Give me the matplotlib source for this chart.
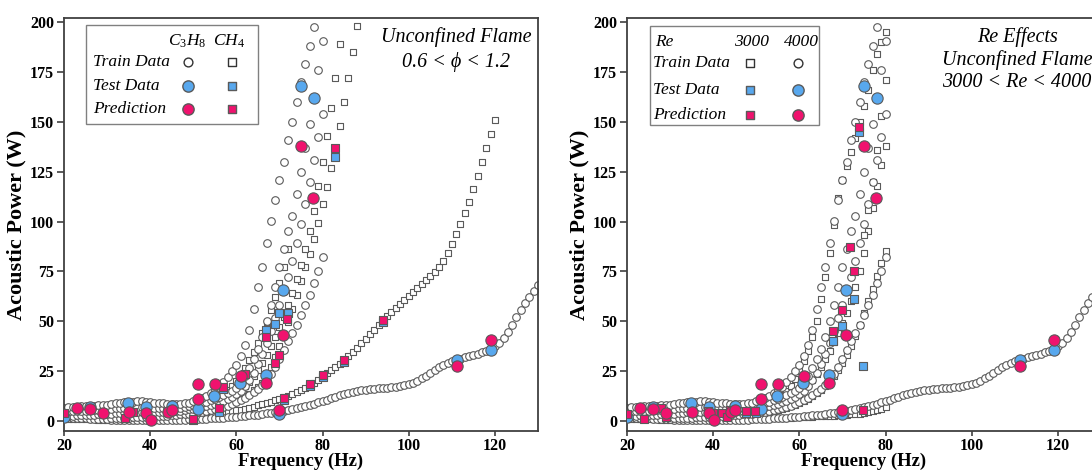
import matplotlib
matplotlib.use('Agg')
import matplotlib.pyplot as plt
from matplotlib.patches import Rectangle

plt.rcParams['font.family'] = ['Liberation Serif', 'DejaVu Serif']
plt.rcParams['mathtext.fontset'] = 'custom'
plt.rcParams['mathtext.rm'] = 'Liberation Serif'
plt.rcParams['mathtext.it'] = 'Liberation Serif:italic'

# ---------------- train data, C3H8 / Re 4000 (circles, shared by both panels)
a_f = [20, 21, 22, 23, 24, 25, 26, 27, 28, 29, 30, 31, 32, 33, 34, 35, 36, 37, 38, 39,
       40, 41, 42, 43, 44, 45, 46, 47, 48, 49, 50, 51, 52, 53, 54, 55, 56, 57, 58, 59,
       60, 61, 62, 63, 64, 65, 66, 67, 68, 69, 70, 71, 72, 73, 74, 75, 76, 77, 78, 79,
       80, 81, 82, 83, 84, 85, 86, 87, 88, 89, 90, 91, 92, 93, 94, 95, 96, 97, 98, 99,
       100, 101, 102, 103, 104, 105, 106, 107, 108, 109, 110, 111, 112, 113, 114, 115,
       116, 117, 118, 119, 120, 121, 122, 123, 124, 125, 126, 127, 128, 129, 130]
a_p = [1.8, 1.7, 1.6, 1.5, 1.4, 1.3, 1.2, 1.1, 1.0, 0.9, 0.8, 0.7, 0.6, 0.5, 0.5, 0.4, 0.4, 0.3, 0.3, 0.3,
       0.3, 0.3, 0.3, 0.3, 0.3, 0.4, 0.5, 0.6, 0.7, 0.8, 0.9, 1.0, 1.1, 1.2, 1.3, 1.4, 1.5, 1.6, 1.8, 2.0,
       2.2, 2.4, 2.6, 2.8, 3.0, 3.2, 3.5, 3.8, 4.1, 4.4, 4.8, 5.2, 5.6, 6.0, 6.5, 7.0, 7.5, 8.1, 8.7, 9.3,
       10.0, 10.7, 11.4, 12.1, 12.8, 13.4, 14.0, 14.5, 15.0, 15.4, 15.8, 16.1, 16.3, 16.5, 16.7, 16.8, 17.0, 17.2, 17.5, 17.9,
       18.5, 19.3, 20.3, 21.5, 22.8, 24.2, 25.6, 27.0, 28.2, 29.2, 30.0, 30.7, 31.3, 31.9, 32.5, 33.1,
       33.8, 34.5, 35.3, 36.3, 37.5, 39.2, 41.5, 44.5, 48.0, 52.0, 55.5, 59.0, 62.0, 65.0, 68.0]

c1_f = [20, 21, 22, 23, 24, 25, 26, 27, 28, 29, 30, 31, 32, 33, 34, 35, 36, 37, 38, 39,
        40, 41, 42, 43, 44, 45, 46, 47, 48, 49, 50, 51, 52, 53, 54, 55, 56, 57, 58, 59,
        60, 61, 62, 63, 64, 65, 66, 67, 68, 69, 70, 71, 72, 73, 74, 75, 76, 77, 78]
c1_p = [6.5, 6.8, 7.0, 7.2, 7.3, 7.4, 7.5, 7.6, 7.8, 8.0, 8.2, 8.5, 8.8, 9.1, 9.3, 9.5, 9.7, 9.8, 9.8, 9.7,
        9.5, 9.2, 9.0, 8.8, 8.6, 8.5, 8.5, 8.6, 8.8, 9.2, 9.8, 10.5, 11.5, 12.7, 14.0, 15.5, 17.3, 19.5, 22.0, 25.0,
        28.0, 32.5, 38.0, 45.5, 56.0, 67.0, 77.0, 89.0, 100.5, 111.0, 121.0, 130.0, 141.0, 150.0, 160.0, 170.0,
        179.0, 188.0, 197.5]

c2_f = [20, 21, 22, 23, 24, 25, 26, 27, 28, 29, 30, 31, 32, 33, 34, 35, 36, 37, 38, 39,
        40, 41, 42, 43, 44, 45, 46, 47, 48, 49, 50, 51, 52, 53, 54, 55, 56, 57, 58, 59,
        60, 61, 62, 63, 64, 65, 66, 67, 68, 69, 70, 71, 72, 73, 74, 75, 76, 77, 78, 79, 80]
c2_p = [4.5, 4.6, 4.8, 5.0, 5.1, 5.2, 5.3, 5.4, 5.5, 5.7, 5.9, 6.1, 6.3, 6.5, 6.7, 6.9, 7.0, 7.1, 7.1, 7.0,
        6.9, 6.7, 6.5, 6.4, 6.3, 6.3, 6.4, 6.6, 6.9, 7.3, 8.0, 8.5, 9.0, 9.6, 10.3, 11.0, 12.0, 13.0, 14.2, 15.2,
        16.8, 19.0, 22.5, 26.5, 31.0, 36.0, 42.0, 50.0, 58.0, 67.0, 77.0, 86.0, 95.0, 103.0, 113.8, 124.7,
        137.0, 149.0, 162.0, 176.0, 190.5]

c3_f = [20, 21, 22, 23, 24, 25, 26, 27, 28, 29, 30, 31, 32, 33, 34, 35, 36, 37, 38, 39,
        40, 41, 42, 43, 44, 45, 46, 47, 48, 49, 50, 51, 52, 53, 54, 55, 56, 57, 58, 59,
        60, 61, 62, 63, 64, 65, 66, 67, 68, 69, 70, 71, 72, 73, 74, 75, 76, 77, 78, 79, 80]
c3_p = [2.5, 2.6, 2.7, 2.8, 2.9, 3.0, 3.1, 3.2, 3.3, 3.4, 3.5, 3.7, 3.9, 4.1, 4.3, 4.5, 4.6, 4.7, 4.7, 4.6,
        4.5, 4.4, 4.3, 4.3, 4.4, 4.6, 4.9, 5.2, 5.5, 5.8, 6.2, 6.6, 7.0, 7.5, 8.0, 8.6, 9.3, 10.1, 11.0, 12.2,
        13.5, 15.2, 17.5, 20.5, 24.0, 28.5, 33.5, 39.0, 45.0, 51.5, 58.0, 65.0, 72.0, 80.0, 89.0, 99.0,
        109.0, 120.0, 131.0, 142.5, 154.0]

c4_f = [30, 31, 32, 33, 34, 35, 36, 37, 38, 39, 40, 41, 42, 43, 44, 45, 46, 47, 48, 49,
        50, 51, 52, 53, 54, 55, 56, 57, 58, 59, 60, 61, 62, 63, 64, 65, 66, 67, 68, 69,
        70, 71, 72, 73, 74, 75, 76, 77, 78, 79, 80]
c4_p = [1.2, 1.3, 1.4, 1.5, 1.6, 1.7, 1.8, 1.9, 2.0, 2.1, 2.2, 2.3, 2.4, 2.5, 2.7, 2.9, 3.1, 3.3, 3.5, 3.7,
        4.0, 4.3, 4.6, 5.0, 5.4, 5.9, 6.4, 7.0, 7.7, 8.5, 9.4, 10.4, 11.5, 12.8, 14.3, 16.0, 18.0, 20.5, 23.5, 27.0,
        31.0, 35.5, 40.0, 44.0, 48.0, 53.0, 58.0, 63.0, 69.0, 75.0, 82.0]

# ---------------- train data, CH4 (squares, left panel)
b_f = [20, 21, 22, 23, 24, 25, 26, 27, 28, 29, 30, 31, 32, 33, 34, 35, 36, 37, 38, 39,
       40, 41, 42, 43, 44, 45, 46, 47, 48, 49, 50, 51, 52, 53, 54, 55, 56, 57, 58, 59,
       60, 61, 62, 63, 64, 65, 66, 67, 68, 69, 70, 71, 72, 73, 74, 75, 76, 77, 78, 79,
       80, 81, 82, 83, 84, 85, 86, 87, 88, 89, 90, 91, 92, 93, 94, 95, 96, 97, 98, 99,
       100, 101, 102, 103, 104, 105, 106, 107, 108, 109, 110, 111, 112, 113, 114, 115,
       116, 117, 118, 119, 120]
b_p = [0.9, 0.9, 0.9, 0.9, 0.8, 0.8, 0.8, 0.8, 0.7, 0.7, 0.7, 0.7, 0.7, 0.6, 0.6, 0.6, 0.6, 0.6, 0.6, 0.6,
       0.6, 0.6, 0.7, 0.8, 0.9, 1.0, 1.1, 1.2, 1.3, 1.4, 1.5, 1.8, 2.1, 2.5, 2.9, 3.3, 3.7, 4.1, 4.5, 4.9,
       5.3, 5.7, 6.2, 6.7, 7.2, 7.8, 8.4, 9.0, 9.7, 10.4, 11.1, 11.8, 12.6, 13.5, 14.5, 15.5, 16.5, 17.6, 19.2, 20.8,
       22.4, 24.0, 25.6, 27.2, 28.8, 30.5, 32.5, 34.5, 36.7, 39.0, 41.3, 43.5, 45.8, 48.0, 50.5, 52.5, 54.5, 56.5, 58.5, 60.5,
       62.5, 64.5, 66.5, 68.5, 70.5, 72.5, 74.5, 77.0, 80.0, 84.0, 88.5, 93.5, 99.0, 104.5, 110.0, 116.5,
       123.0, 130.0, 137.0, 144.0, 151.0]

s1_f = [20, 21, 22, 23, 24, 25, 26, 27, 28, 29, 30, 31, 32, 33, 34, 35, 36, 37, 38, 39,
        40, 41, 42, 43, 44, 45, 46, 47, 48, 49, 50, 51, 52, 53, 54, 55, 56, 57, 58, 59,
        60, 61, 62, 63, 64, 65, 66, 67, 68, 69, 70, 71, 72, 73, 74, 75, 76, 77, 78, 79,
        80, 81, 82, 83, 84, 85, 86, 87, 88]
s1_p = [2.0, 2.0, 2.1, 2.1, 2.2, 2.2, 2.3, 2.3, 2.4, 2.4, 2.5, 2.6, 2.7, 2.8, 2.9, 3.0, 3.0, 3.1, 3.1, 3.1,
        3.0, 3.0, 3.0, 3.0, 3.0, 3.1, 3.2, 3.3, 3.5, 3.7, 4.0, 4.3, 4.7, 5.1, 5.5, 6.0, 6.6, 7.3, 8.1, 9.0,
        10.0, 11.1, 12.3, 13.7, 15.3, 17.1, 19.2, 22.5, 27.0, 32.0, 37.5, 43.5, 49.5, 56.0, 63.0, 70.0, 77.0, 83.5, 91.0, 99.5,
        109.0, 117.5, 127.0, 137.0, 148.0, 160.0, 172.0, 185.0, 198.0]

s2_f = [20, 21, 22, 23, 24, 25, 26, 27, 28, 29, 30, 31, 32, 33, 34, 35, 36, 37, 38, 39,
        40, 41, 42, 43, 44, 45, 46, 47, 48, 49, 50, 51, 52, 53, 54, 55, 56, 57, 58, 59,
        60, 61, 62, 63, 64, 65, 66, 67, 68, 69, 70, 71, 72, 73, 74, 75, 76, 77, 78, 79,
        80, 81, 82, 83, 84]
s2_p = [3.2, 3.3, 3.4, 3.5, 3.6, 3.7, 3.8, 3.9, 4.0, 4.1, 4.2, 4.3, 4.4, 4.5, 4.6, 4.7, 4.8, 4.8, 4.8, 4.7,
        4.6, 4.5, 4.4, 4.4, 4.4, 4.5, 4.6, 4.8, 5.0, 5.3, 5.6, 6.0, 6.5, 7.0, 7.6, 8.3, 9.0, 9.9, 11.0, 12.3,
        13.8, 15.5, 17.5, 19.8, 22.4, 25.5, 29.0, 33.0, 37.5, 42.0, 47.0, 52.0, 58.0, 64.0, 71.0, 78.0, 86.0, 95.0, 105.5, 118.0,
        130.0, 143.0, 157.0, 172.0, 189.0]

s3_f = [20, 21, 22, 23, 24, 25, 26, 27, 28, 29, 30, 31, 32, 33, 34, 35, 36, 37, 38, 39,
        40, 41, 42, 43, 44, 45, 46, 47, 48, 49, 50, 51, 52, 53, 54, 55, 56, 57, 58, 59,
        60, 61, 62, 63, 64, 65, 66, 67, 68, 69, 70, 71, 72]
s3_p = [5.5, 5.6, 5.7, 5.8, 5.9, 6.0, 6.1, 6.2, 6.3, 6.4, 6.5, 6.6, 6.8, 7.0, 7.2, 7.3, 7.4, 7.4, 7.3, 7.1,
        6.9, 6.7, 6.5, 6.3, 6.2, 6.1, 6.1, 6.2, 6.4, 6.7, 7.4, 7.9, 8.5, 9.2, 10.0, 11.0, 12.2, 13.6, 15.4, 17.6,
        20.2, 23.2, 26.6, 30.4, 34.6, 39.2, 44.2, 49.6, 55.4, 62.0, 69.0, 77.0, 86.0]

# ---------------- train data, Re 3000 (squares, right panel)
rb_f = [20, 21, 22, 23, 24, 25, 26, 27, 28, 29, 30, 31, 32, 33, 34, 35, 36, 37, 38, 39,
        40, 41, 42, 43, 44, 45, 46, 47, 48, 49, 50, 51, 52, 53, 54, 55, 56, 57, 58, 59,
        60, 61, 62, 63, 64, 65, 66, 67, 68, 69, 70, 71, 72, 73, 74, 75, 76, 77, 78, 79, 80]
rb_p = [0.9, 0.9, 0.9, 0.9, 0.8, 0.8, 0.8, 0.8, 0.7, 0.7, 0.7, 0.7, 0.7, 0.6, 0.6, 0.6, 0.6, 0.6, 0.6, 0.6,
        0.6, 0.6, 0.7, 0.8, 0.9, 1.0, 1.0, 1.1, 1.1, 1.2, 1.2, 1.3, 1.3, 1.4, 1.4, 1.5, 1.5, 1.6, 1.7, 1.8,
        1.9, 2.0, 2.1, 2.2, 2.3, 2.4, 2.5, 2.6, 2.7, 2.8, 2.9, 3.1, 3.3, 3.5, 3.7, 4.0, 4.4, 4.9, 5.5, 6.2, 7.0]

rs1_f = rb_f
rs1_p = [5.5, 5.6, 5.7, 5.8, 5.9, 6.0, 6.1, 6.2, 6.3, 6.4, 6.5, 6.6, 6.8, 7.0, 7.2, 7.3, 7.4, 7.4, 7.3, 7.1,
         6.9, 6.7, 6.5, 6.3, 6.2, 6.1, 6.1, 6.2, 6.4, 6.8, 7.5, 8.0, 8.7, 9.5, 10.5, 11.7, 13.2, 15.0, 17.5, 21.0,
         25.0, 30.0, 35.0, 42.0, 50.0, 61.0, 72.0, 84.0, 98.0, 112.0, 121.0, 128.0, 135.0, 142.0, 150.0, 158.0,
         166.0, 176.0, 184.0, 190.0, 195.0]

rs2_f = rb_f
rs2_p = [3.2, 3.3, 3.4, 3.5, 3.6, 3.7, 3.8, 3.9, 4.0, 4.1, 4.2, 4.3, 4.4, 4.5, 4.6, 4.7, 4.8, 4.8, 4.8, 4.7,
         4.6, 4.5, 4.4, 4.4, 4.4, 4.5, 4.6, 4.8, 5.0, 5.3, 5.8, 6.2, 6.7, 7.2, 7.8, 8.5, 9.3, 10.2, 11.3, 12.6,
         14.2, 16.0, 18.0, 20.5, 23.5, 27.0, 31.0, 35.0, 39.5, 44.0, 49.0, 54.0, 60.0, 67.0, 75.0, 84.0,
         95.0, 107.0, 118.0, 128.5, 138.0]

rs3_f = rb_f
rs3_p = [2.0, 2.0, 2.1, 2.1, 2.2, 2.2, 2.3, 2.3, 2.4, 2.4, 2.5, 2.6, 2.7, 2.8, 2.9, 3.0, 3.0, 3.1, 3.1, 3.1,
         3.0, 3.0, 3.0, 3.0, 3.0, 3.1, 3.2, 3.3, 3.4, 3.5, 3.6, 3.9, 4.2, 4.6, 5.0, 5.5, 6.0, 6.6, 7.3, 8.1,
         9.0, 10.0, 11.2, 12.5, 14.0, 15.8, 17.8, 20.0, 22.5, 25.5, 29.0, 33.0, 37.5, 42.5, 48.0, 54.0,
         60.0, 66.0, 72.5, 79.0, 85.0]

rs4_f = [75, 76, 77, 78, 79, 80]
rs4_p = [93, 106, 120, 136, 153, 171]

# ---------------- test / prediction points
tc_f = [20, 26, 34.9, 39, 45, 51, 54.9, 60.8, 66.9, 70, 70.9, 75, 78, 111.2, 119.1]
tc_p = [2, 7, 8.8, 7.2, 7.5, 6, 12.5, 19, 23, 3.5, 65.5, 168, 162, 30.5, 35.5]
pc_f = [23.1, 26, 29.1, 35, 39, 40.1, 44.1, 45, 51, 51, 55, 61.1, 66.9, 70, 70.9, 75, 77.8, 111.2, 119.1]
pc_p = [6.3, 6, 3.8, 4.5, 4.2, 0.5, 4.5, 5.5, 18.5, 11, 18.5, 22.5, 19, 5.5, 43, 138, 112, 27.5, 40.5]

ts_f = [20, 50, 56, 57, 66.9, 69, 70, 71.1, 72, 77, 80, 83, 85, 94]
ts_p = [2.5, 0.5, 4.5, 16, 45.5, 48.5, 54, 10.3, 54, 17.5, 22, 132.5, 29.5, 49.5]
ps_f = [20, 34.1, 36, 50, 56, 57, 62, 66.9, 69, 70, 71.1, 71.8, 77, 80, 83, 85, 94]
ps_p = [4, 1.3, 4.7, 1, 6.7, 17, 23.5, 42, 29, 33, 11.3, 51, 18.5, 23, 137, 30.5, 50.5]

rts_f = [47.7, 49.9, 67.8, 69.9, 72.7, 73.8, 74.8]
rts_p = [3.8, 3.8, 40, 47.5, 61.2, 145, 27.5]
rps_f = [20, 23.9, 27.9, 29.1, 38.9, 40, 42, 43.1, 43.9, 47.7, 49.6, 67.8, 69.9, 71.8, 72.7, 73.8, 74.8]
rps_p = [3.3, 0.8, 6.3, 2.2, 5, 4.2, 4.2, 2.2, 5.5, 5, 5, 45, 55.8, 87.2, 75.3, 147.5, 5.5]

x_ticks = [20, 40, 60, 80, 100, 120]
y_ticks = [0, 25, 50, 75, 100, 125, 150, 175, 200]

BLUE = '#58a8ee'
PINK = '#f0126e'
EDGE = '#5a5a5a'
SPINE = '#404040'

circle_curves = [(a_f, a_p), (c4_f, c4_p), (c3_f, c3_p), (c2_f, c2_p), (c1_f, c1_p)]
left_squares = [(b_f, b_p), (s1_f, s1_p), (s2_f, s2_p), (s3_f, s3_p)]
right_squares = [(rb_f, rb_p), (rs3_f, rs3_p), (rs2_f, rs2_p), (rs1_f, rs1_p), (rs4_f, rs4_p)]


def train(ax, curves, marker, s):
    for f, p in curves:
        ax.scatter(f, p, s=s, marker=marker, facecolors='white', edgecolors=EDGE,
                   linewidths=0.8, zorder=2)


def big(ax, f, p, marker, color, s, z):
    ax.scatter(f, p, s=s, marker=marker, facecolors=color, edgecolors=EDGE,
               linewidths=0.8, zorder=z)


def style(ax):
    ax.set_xlim(20, 130)
    ax.set_ylim(-5, 202)
    ax.set_xticks(x_ticks)
    ax.set_yticks(y_ticks)
    for sp in ax.spines.values():
        sp.set_color(SPINE)
        sp.set_linewidth(1.3)
    ax.tick_params(direction='out', length=5, width=1.2, color=SPINE, labelsize=11.5, pad=2)
    ax.tick_params(axis='x', length=3.5, pad=1.5)
    for lab in ax.get_xticklabels() + ax.get_yticklabels():
        lab.set_fontweight('bold')
    ax.set_xlabel('Frequency (Hz)', fontsize=13.5, fontweight='bold', labelpad=-1)
    ax.set_ylabel('Acoustic Power (W)', fontsize=16, fontweight='bold', labelpad=3)


def legend_box(ax, x0, x1, y0, y1):
    ax.add_patch(Rectangle((x0, y0), x1 - x0, y1 - y0, transform=ax.transAxes,
                           facecolor='white', edgecolor='#808080', linewidth=1.0, zorder=5))


fig = plt.figure(figsize=(10.92, 4.73), dpi=100)
ax1 = fig.add_axes([64 / 1092, 42 / 473, 474 / 1092, 413 / 473])
ax2 = fig.add_axes([627 / 1092, 42 / 473, 474 / 1092, 413 / 473])

# left panel
train(ax1, left_squares, 's', 20)
train(ax1, circle_curves, 'o', 30)
big(ax1, ts_f, ts_p, 's', BLUE, 38, 3)
big(ax1, tc_f, tc_p, 'o', BLUE, 66, 3)
big(ax1, ps_f, ps_p, 's', PINK, 38, 4)
big(ax1, pc_f, pc_p, 'o', PINK, 66, 4)
style(ax1)

legend_box(ax1, 0.046, 0.409, 0.744, 0.983)
it = dict(transform=ax1.transAxes, fontsize=12.5, style='italic', zorder=6, va='center')
note = dict(it, fontsize=14.5)
ax1.text(0.259, 0.943, r'$C_3H_8$', ha='center', **it)
ax1.text(0.348, 0.943, r'$CH_4$', ha='center', **it)
for y, lab in zip([0.894, 0.835, 0.779], ['Train Data', 'Test Data', 'Prediction']):
    ax1.text(0.062, y, lab, ha='left', **it)
for y, col, s_c, s_s in zip([0.894, 0.835, 0.779], ['white', BLUE, PINK], [40, 66, 66], [26, 38, 38]):
    ax1.scatter([0.262], [y], s=s_c, marker='o', facecolors=col, edgecolors='#333333' if col == 'white' else EDGE,
                linewidths=1.0, transform=ax1.transAxes, zorder=6, clip_on=False)
    ax1.scatter([0.354], [y], s=s_s, marker='s', facecolors=col, edgecolors='#333333' if col == 'white' else EDGE,
                linewidths=1.0, transform=ax1.transAxes, zorder=6, clip_on=False)
ax1.text(0.828, 0.955, 'Unconfined Flame', ha='center', **note)
ax1.text(0.828, 0.894, '0.6 < \u03d5 < 1.2', ha='center', **note)

# right panel
train(ax2, right_squares, 's', 20)
train(ax2, circle_curves, 'o', 30)
big(ax2, rts_f, rts_p, 's', BLUE, 38, 3)
big(ax2, tc_f, tc_p, 'o', BLUE, 66, 3)
big(ax2, rps_f, rps_p, 's', PINK, 38, 4)
big(ax2, pc_f, pc_p, 'o', PINK, 66, 4)
style(ax2)

legend_box(ax2, 0.0485, 0.405, 0.741, 0.981)
it2 = dict(it, transform=ax2.transAxes)
note2 = dict(note, transform=ax2.transAxes)
ax2.text(0.078, 0.943, 'Re', ha='center', **it2)
ax2.text(0.263, 0.943, '3000', ha='center', **it2)
ax2.text(0.369, 0.943, '4000', ha='center', **it2)
for y, lab in zip([0.890, 0.826, 0.765], ['Train Data', 'Test Data', 'Prediction']):
    ax2.text(0.0555, y, lab, ha='left', **it2)
for y, col, s_c, s_s in zip([0.890, 0.826, 0.765], ['white', BLUE, PINK], [40, 66, 66], [26, 38, 38]):
    ax2.scatter([0.259], [y], s=s_s, marker='s', facecolors=col, edgecolors='#333333' if col == 'white' else EDGE,
                linewidths=1.0, transform=ax2.transAxes, zorder=6, clip_on=False)
    ax2.scatter([0.361], [y], s=s_c, marker='o', facecolors=col, edgecolors='#333333' if col == 'white' else EDGE,
                linewidths=1.0, transform=ax2.transAxes, zorder=6, clip_on=False)
ax2.text(0.823, 0.955, 'Re Effects', ha='center', **note2)
ax2.text(0.823, 0.898, 'Unconfined Flame', ha='center', **note2)
ax2.text(0.823, 0.843, '3000 < Re < 4000', ha='center', **note2)

fig.savefig('out.png', dpi=100)
